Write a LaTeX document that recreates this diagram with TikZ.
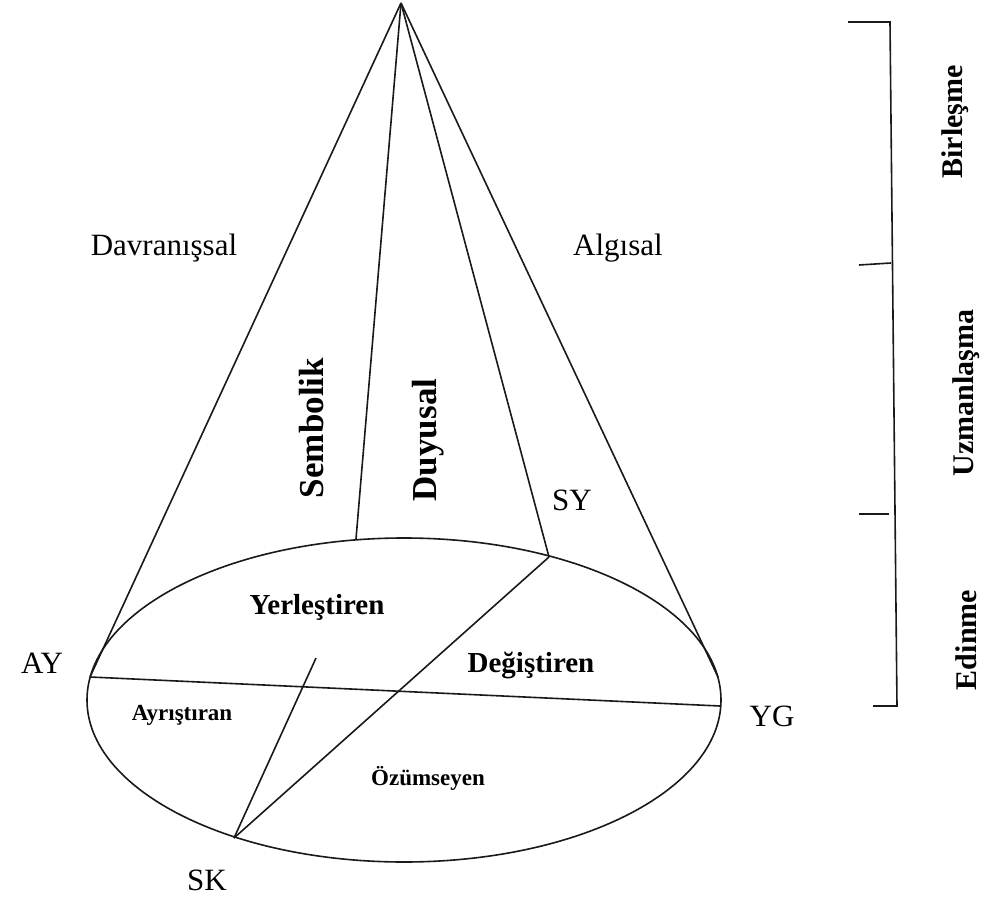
\documentclass[tikz,border=0pt]{standalone}
\usepackage{fontspec}
\setmainfont{Liberation Serif}
\begin{document}
\begin{tikzpicture}[x=1pt,y=-1pt,line width=1.6pt,
  lbl/.style={inner sep=0pt,font=\fontsize{31}{36}\selectfont},
  blbl/.style={inner sep=0pt,font=\fontsize{29}{34}\selectfont\bfseries},
  slbl/.style={inner sep=0pt,font=\fontsize{23}{28}\selectfont\bfseries},
  vlbl/.style={inner sep=0pt,rotate=90,font=\fontsize{35}{40}\selectfont\bfseries},
  rlbl/.style={inner sep=0pt,rotate=90,font=\fontsize{30}{35}\selectfont\bfseries},
  edge/.style={draw=black!90}]
\useasboundingbox (0,0) rectangle (989,902);

% key points of the cone
\coordinate (apex) at (401,3);
\coordinate (ay) at (90,677);
\coordinate (yg) at (720,706);
\coordinate (rt) at (718,677);
\coordinate (sem) at (356,539);
\coordinate (sy) at (549,557);
\coordinate (sk) at (234,838);
\coordinate (inner) at (316,658);
\coordinate (base) at (404,700);

% base of the cone
\draw[edge] (base) ellipse [x radius=317, y radius=162];

% cone edges and inner sectors
\draw[edge] (apex) -- (ay);
\draw[edge] (apex) -- (rt);
\draw[edge] (apex) -- (sem);
\draw[edge] (apex) -- (sy);
\draw[edge] (ay) -- (yg);
\draw[edge] (sy) -- (sk);
\draw[edge] (inner) -- (sk);

% outside labels
\node[lbl] (davr) at (164,248) {Davranışsal};
\node[lbl] (alg) at (618,248) {Algısal};
\node[lbl] (sylbl) at (572,500) {SY};
\node[lbl] (aylbl) at (42,663) {AY};
\node[lbl] (yglbl) at (772,716) {YG};
\node[lbl] (sklbl) at (207,880) {SK};
\node[vlbl] (semb) at (312,428) {Sembolik};
\node[vlbl] (duy) at (428,440) {Duyusal};

% learning styles on the base
\node[blbl] (yer) at (317,607) {Yerleştiren};
\node[blbl] (deg) at (531,665) {Değiştiren};
\node[slbl] (ayr) at (182,715) {Ayrıştıran};
\node[slbl] (ozu) at (428,778) {Özümseyen};

% stage bracket
\coordinate (b0) at (848,22);
\coordinate (b1) at (890,22);
\coordinate (b2) at (897,706);
\coordinate (b3) at (873,706);
\coordinate (t1a) at (859,265);
\coordinate (t1b) at (891,263);
\coordinate (t2a) at (859,514);
\coordinate (t2b) at (889,514);
\draw[edge] (b0) -- (b1) -- (b2) -- (b3);
\draw[edge] (t1a) -- (t1b);
\draw[edge] (t2a) -- (t2b);

\node[rlbl] (birl) at (955,122) {Birleşme};
\node[rlbl] (uzm) at (966,393) {Uzmanlaşma};
\node[rlbl] (edin) at (966,640) {Edinme};
\end{tikzpicture}
\end{document}
